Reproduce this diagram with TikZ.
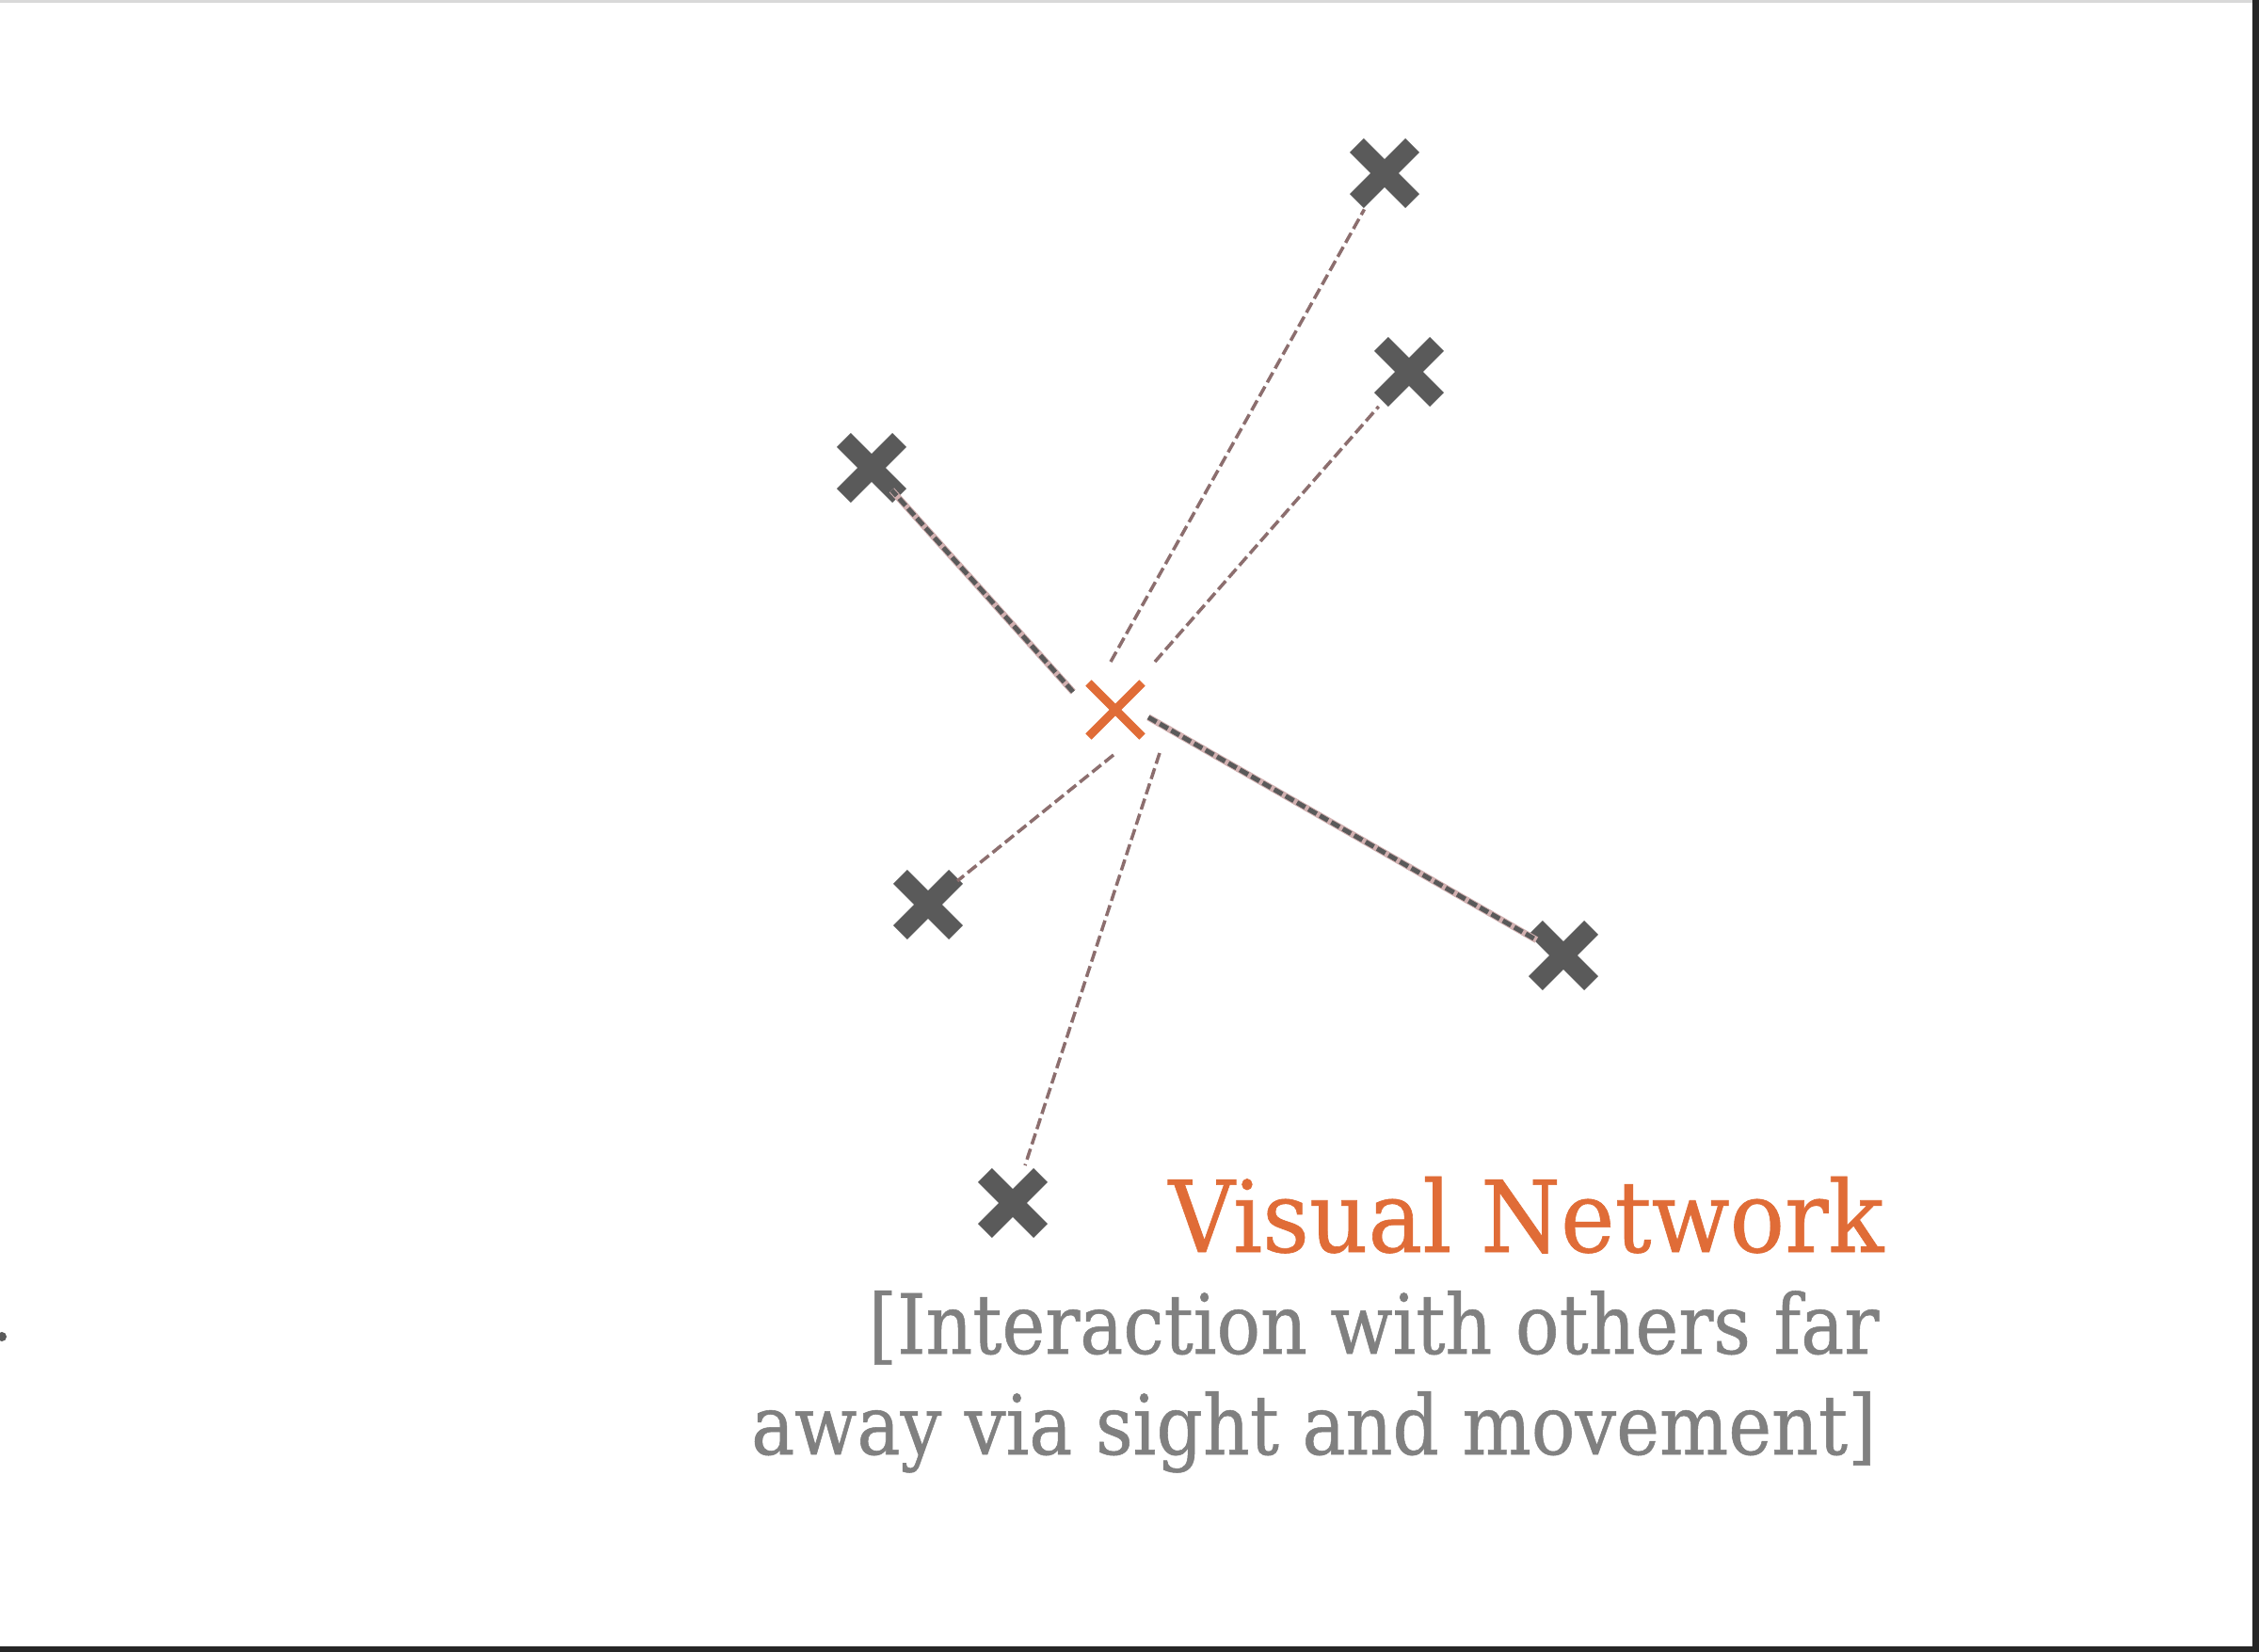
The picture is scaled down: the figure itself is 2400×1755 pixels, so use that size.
\documentclass[tikz,border=0pt]{standalone}
\usepackage{fontspec}
\setmainfont[FakeStretch=0.88,FakeBold=0.6]{DejaVu Serif}
\newfontfamily\titlefont[FakeStretch=0.92,FakeBold=0.6]{DejaVu Serif}
\usetikzlibrary{shapes.misc}
\definecolor{xgray}{HTML}{5A5A5A}
\definecolor{xorange}{HTML}{E06C37}
\definecolor{tgray}{HTML}{808080}
\definecolor{linkc}{HTML}{8C6E6E}
\definecolor{linkpink}{HTML}{D2B0B0}
\begin{document}
\begin{tikzpicture}[x=0.01cm,y=-0.01cm,
  peer/.style={cross out, draw=xgray, line width=0.21cm, minimum size=0.38cm, inner sep=0pt},
  me/.style={cross out, draw=xorange, line width=0.09cm, minimum size=0.48cm, inner sep=0pt},
  link/.style={draw=linkc, line width=0.035cm, dash pattern=on 0.12cm off 0.05cm},
  darklink/.style={preaction={draw=linkpink, line width=0.07cm}, draw=xgray, line width=0.05cm, dash pattern=on 0.10cm off 0.04cm},
  title/.style={font=\titlefont\fontsize{30}{36}\selectfont, text=xorange, inner sep=0pt, anchor=base east},
  sub/.style={font=\fontsize{25}{30}\selectfont, text=tgray, inner sep=0pt, anchor=base east}]
\useasboundingbox (0,0) rectangle (2400,1755);
\fill[white] (0,0) rectangle (2400,1755);
% frame edges
\draw[line width=0.03cm, draw=black!15] (0,1.5) -- (2400,1.5);
\draw[line width=0.07cm, draw=black!85] (2396.5,0) -- (2396.5,1755);
\draw[line width=0.06cm, draw=black!85] (0,1752) -- (2400,1752);
\fill[xgray] (2,1420) circle (0.05cm);
% nodes
\node[me] (c) at (1185,754) {};
\node[peer] (t) at (1471,184) {};
\node[peer] (b) at (1497,395) {};
\node[peer] (l) at (926,497) {};
\node[peer] (d) at (986,961) {};
\node[peer] (r) at (1661,1015) {};
\node[peer] (s) at (1076,1278) {};
% link start points near the centre
\coordinate (t0) at (1180,703);
\coordinate (b0) at (1227,703);
\coordinate (l0) at (1140,735);
\coordinate (r0) at (1220,762);
\coordinate (d0) at (1183,802);
\coordinate (s0) at (1232,800);
% links
\draw[link, shorten >=0.44cm] (t0) -- (t.center);
\draw[link, shorten >=0.49cm] (b0) -- (b.center);
\draw[darklink, shorten >=0.32cm] (l0) -- (l.center);
\draw[darklink, shorten >=0.33cm] (r0) -- (r.center);
\draw[link, shorten >=0.40cm] (d0) -- (d.center);
\draw[link, shorten >=0.42cm] (s0) -- (s.center);
% texts
\node[title] (title) at (2002,1330) {Visual Network};
\node[sub] (s1) at (1997,1438) {[Interaction with others far};
\node[sub] (s2) at (1994,1545) {away via sight and movement]};
\end{tikzpicture}
\end{document}
